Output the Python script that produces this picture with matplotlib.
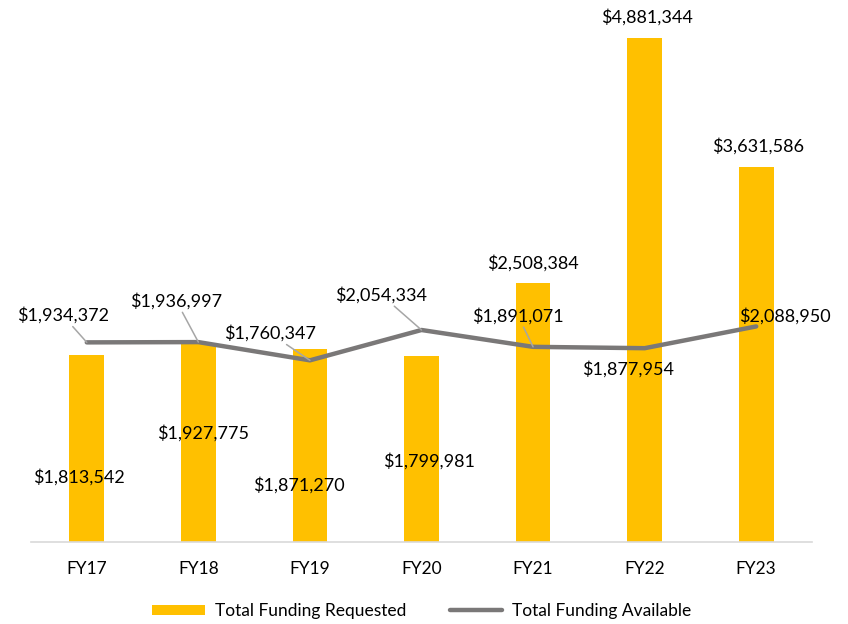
import matplotlib
matplotlib.use("Agg")
import matplotlib.pyplot as plt
import numpy as np

plt.rcParams["font.family"] = ["Lato", "DejaVu Sans"]

# data
years = ["FY17", "FY18", "FY19", "FY20", "FY21", "FY22", "FY23"]
requested = [1813542, 1927775, 1871270, 1799981, 2508384, 4881344, 3631586]
available = [1934372, 1936997, 1760347, 2054334, 1891071, 1877954, 2088950]

# label placement (pixel offsets from the mark), tuned by eye
bar_offsets = [(-8, -122), (5, -90), (-11, -136), (8, -105), (0, 20), (2, 21), (2, 21)]
line_offsets = [(-24, 27), (-22, 41), (-40, 27), (-40, 35), (-15, 31), (-17, -21), (29, 10)]
line_leader = [True, True, True, True, True, False, False]

BAR_COLOR = "#FFC000"
LINE_COLOR = "#7A7878"

fig = plt.figure(figsize=(8.48, 6.24), dpi=100)
ax = fig.add_axes([31 / 848, 1 - 542 / 624, 781 / 848, 516 / 624])

x = np.arange(len(years))
bars = ax.bar(x, requested, width=0.31, color=BAR_COLOR, label="Total Funding Requested", zorder=2)
line, = ax.plot(x, available, color=LINE_COLOR, lw=3.2, solid_capstyle="round",
                label="Total Funding Available", zorder=3)

ax.set_xlim(-0.5, len(years) - 0.5)
ax.set_ylim(0, 5000000)

fmt = lambda v: f"${v:,.0f}"

for i, v in enumerate(requested):
    dx, dy = bar_offsets[i]
    ax.annotate(fmt(v), xy=(i, v), xytext=(dx, dy), textcoords="offset pixels",
                ha="center", va="center", fontsize=13, color="#000000", zorder=4)

for i, v in enumerate(available):
    dx, dy = line_offsets[i]
    arrow = dict(arrowstyle="-", color="#A6A6A6", lw=1.1, shrinkA=0, shrinkB=0) if line_leader[i] else None
    ax.annotate(fmt(v), xy=(i, v), xytext=(dx, dy), textcoords="offset pixels",
                ha="center", va="center", fontsize=13, color="#000000", zorder=4,
                arrowprops=arrow)

ax.set_xticks(x)
ax.set_xticklabels(years, fontsize=12.5)
ax.tick_params(axis="x", length=0, pad=14)
ax.set_yticks([])
for side in ["top", "right", "left"]:
    ax.spines[side].set_visible(False)
ax.spines["bottom"].set_color("#D9D9D9")
ax.spines["bottom"].set_linewidth(1.2)

fig.legend([bars, line], ["Total Funding Requested", "Total Funding Available"],
           loc="center", bbox_to_anchor=(422 / 848, 1 - 611 / 624), ncol=2,
           frameon=False, fontsize=12.5, handlelength=3.0, columnspacing=2.5,
           handleheight=0.55, handletextpad=0.6)

fig.savefig("out.png", dpi=100)
